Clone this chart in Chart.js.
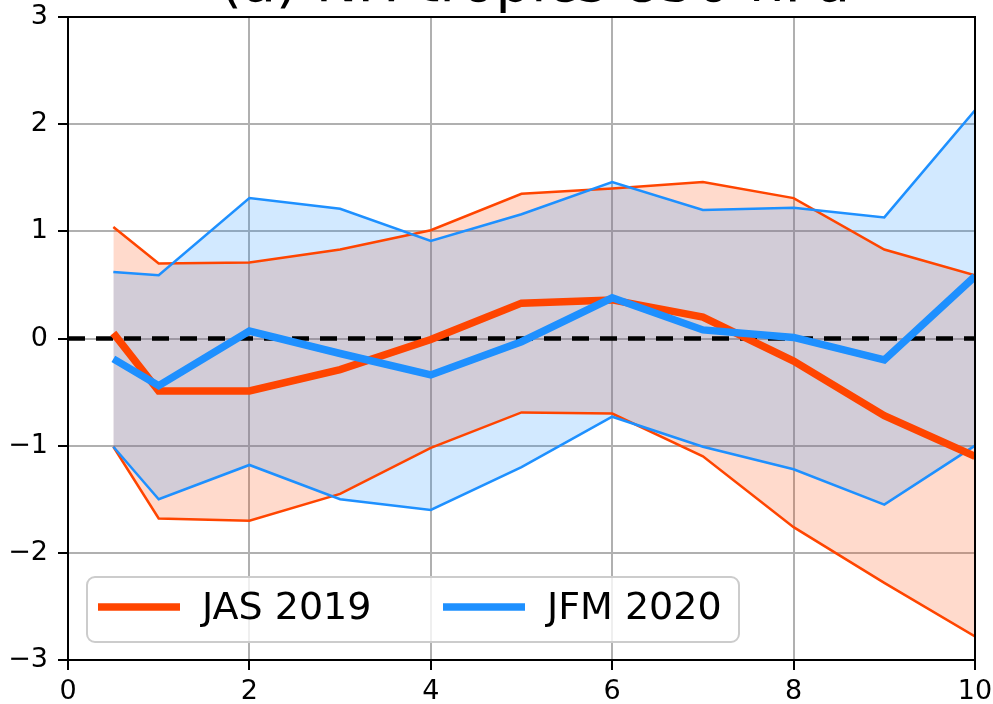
<!DOCTYPE html>
<html>
<head>
<meta charset="utf-8">
<script src="https://cdn.jsdelivr.net/npm/chart.js@4"></script>
<style>
  html, body { margin: 0; padding: 0; background: #fff; overflow: hidden; }
  #chart { display: block; }
</style>
</head>
<body>
<canvas id="chart" width="993" height="704"></canvas>
<script>
// lead time (x) and the two seasons: mean plus upper/lower envelope
const leadTime = [0.5, 1, 2, 3, 4, 5, 6, 7, 8, 9, 10];
const jasMean  = [0.05, -0.49, -0.49, -0.29, -0.01, 0.33, 0.36, 0.20, -0.21, -0.72, -1.10];
const jasUpper = [1.04, 0.70, 0.71, 0.83, 1.01, 1.35, 1.40, 1.46, 1.31, 0.83, 0.59];
const jasLower = [-1.01, -1.68, -1.70, -1.45, -1.02, -0.69, -0.70, -1.10, -1.76, -2.28, -2.78];
const jfmMean  = [-0.19, -0.44, 0.07, -0.14, -0.34, -0.03, 0.38, 0.08, 0.01, -0.20, 0.58];
const jfmUpper = [0.62, 0.59, 1.31, 1.21, 0.91, 1.16, 1.46, 1.20, 1.22, 1.13, 2.13];
const jfmLower = [-1.01, -1.50, -1.18, -1.50, -1.60, -1.20, -0.73, -1.01, -1.22, -1.55, -1.00];

const zeroLineX = [0, 10];
const xTicks = [0, 2, 4, 6, 8, 10];
const yTicks = [-3, -2, -1, 0, 1, 2, 3];

const titleText = "(a) NH tropics 850 hPa";

const ORANGE = "#FF4500";
const BLUE = "#1E90FF";

const pts = (ys) => ys.map((y, i) => ({ x: leadTime[i], y }));

Chart.defaults.font.family = "'DejaVu Sans', sans-serif";
Chart.defaults.color = "#000";

// axes frame (all four spines) on top of the data
const framePlugin = {
  id: "frame",
  afterDatasetsDraw(chart) {
    const { ctx, chartArea: a } = chart;
    ctx.save();
    ctx.strokeStyle = "#000";
    ctx.lineWidth = 2;
    ctx.strokeRect(a.left, a.top, a.right - a.left, a.bottom - a.top);
    ctx.restore();
  }
};

// legend inside the axes, lower left, two columns
const legendPlugin = {
  id: "innerLegend",
  afterDraw(chart) {
    const { ctx, chartArea: a } = chart;
    const entries = [chart.data.datasets[1], chart.data.datasets[0]];
    const bx = a.left + 19, bw = 652, bh = 65;
    const by = a.bottom - 18 - bh;
    ctx.save();
    ctx.beginPath();
    ctx.roundRect(bx, by, bw, bh, 8);
    ctx.fillStyle = "rgba(255,255,255,0.8)";
    ctx.fill();
    ctx.strokeStyle = "#cccccc";
    ctx.lineWidth = 2;
    ctx.stroke();

    const cy = by + 30;
    const cols = [bx + 11, bx + 356];
    ctx.font = "38px 'DejaVu Sans'";
    ctx.textBaseline = "middle";
    ctx.fillStyle = "#000";
    entries.forEach((ds, i) => {
      const x0 = cols[i];
      ctx.beginPath();
      ctx.moveTo(x0, cy);
      ctx.lineTo(x0 + 82, cy);
      ctx.strokeStyle = ds.borderColor;
      ctx.lineWidth = ds.borderWidth;
      ctx.stroke();
      ctx.fillText(ds.label, x0 + 104, cy + 2);
    });
    ctx.restore();
  }
};

// title sits mostly above the visible area, as in the source figure
const titlePlugin = {
  id: "cutTitle",
  afterDraw(chart) {
    const { ctx } = chart;
    ctx.save();
    ctx.font = "56px 'DejaVu Sans'";
    ctx.textAlign = "center";
    ctx.textBaseline = "alphabetic";
    ctx.fillStyle = "#000";
    ctx.fillText(titleText, 535, 1);
    ctx.restore();
  }
};

const fmt = (v) => (v < 0 ? "\u2212" + Math.abs(v) : String(v));

new Chart(document.getElementById("chart"), {
  type: "line",
  data: {
    datasets: [
      { label: "JFM 2020", data: pts(jfmMean), borderColor: BLUE, borderWidth: 7.5, order: 0 },
      { label: "JAS 2019", data: pts(jasMean), borderColor: ORANGE, borderWidth: 7.5, order: 1 },
      {
        label: "zero",
        data: zeroLineX.map(x => ({ x, y: 0 })),
        borderColor: "#000", borderWidth: 4.5, borderDash: [17, 11], order: 2
      },
      {
        label: "JFM upper", data: pts(jfmUpper), borderColor: BLUE, borderWidth: 2.5,
        fill: 4, backgroundColor: "rgba(30,144,255,0.2)", order: 3
      },
      { label: "JFM lower", data: pts(jfmLower), borderColor: BLUE, borderWidth: 2.5, order: 4 },
      {
        label: "JAS upper", data: pts(jasUpper), borderColor: ORANGE, borderWidth: 2.5,
        fill: 6, backgroundColor: "rgba(255,69,0,0.2)", order: 5
      },
      { label: "JAS lower", data: pts(jasLower), borderColor: ORANGE, borderWidth: 2.5, order: 6 }
    ]
  },
  options: {
    responsive: false,
    animation: false,
    devicePixelRatio: 1,
    layout: { padding: { top: 17, right: 18, left: 0, bottom: 0 } },
    elements: {
      point: { radius: 0, hoverRadius: 0 },
      line: { tension: 0, fill: false, borderCapStyle: "butt", borderJoinStyle: "miter" }
    },
    plugins: {
      legend: { display: false },
      tooltip: { enabled: false },
      filler: { drawTime: "beforeDatasetsDraw" }
    },
    scales: {
      x: {
        type: "linear",
        min: 0, max: 10,
        afterBuildTicks: (s) => { s.ticks = xTicks.map(v => ({ value: v })); },
        afterFit: (s) => { s.height = 44; s.paddingLeft = 0; s.paddingRight = 0; },
        ticks: { callback: fmt, font: { size: 27 }, padding: 6, maxRotation: 0, color: "#000" },
        grid: { color: "#b0b0b0", lineWidth: 2, tickColor: "#000", tickLength: 10, tickWidth: 2 },
        border: { display: false }
      },
      y: {
        min: -3, max: 3,
        afterBuildTicks: (s) => { s.ticks = yTicks.map(v => ({ value: v })); },
        afterFit: (s) => { s.width = 68; s.paddingTop = 0; s.paddingBottom = 0; },
        ticks: { callback: fmt, font: { size: 27 }, padding: 10, color: "#000" },
        grid: { color: "#b0b0b0", lineWidth: 2, tickColor: "#000", tickLength: 10, tickWidth: 2 },
        border: { display: false }
      }
    }
  },
  plugins: [framePlugin, legendPlugin, titlePlugin]
});
</script>
</body>
</html>
